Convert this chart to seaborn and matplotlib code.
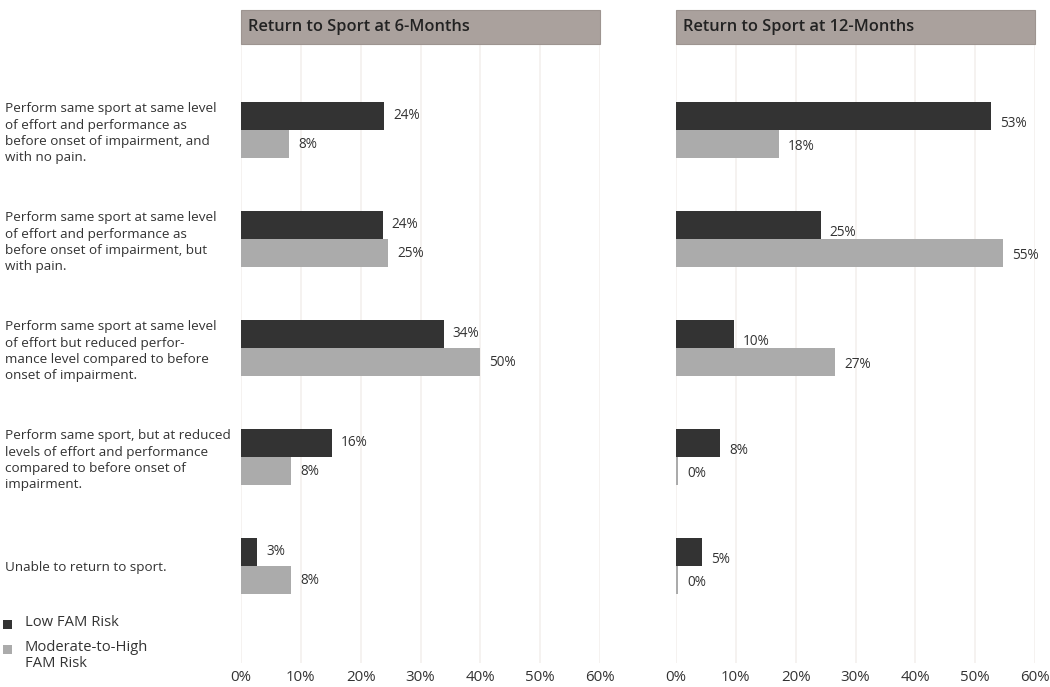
import matplotlib
matplotlib.use("Agg")
import matplotlib.pyplot as plt
import seaborn as sns
import pandas as pd
from matplotlib.patches import Rectangle

# ---------------- data ----------------
categories = [
    "Perform same sport at same level\nof effort and performance as\nbefore onset of impairment, and\nwith no pain.",
    "Perform same sport at same level\nof effort and performance as\nbefore onset of impairment, but\nwith pain.",
    "Perform same sport at same level\nof effort but reduced perfor-\nmance level compared to before\nonset of impairment.",
    "Perform same sport, but at reduced\nlevels of effort and performance\ncompared to before onset of\nimpairment.",
    "Unable to return to sport.",
]
groups = ["Low FAM Risk", "Moderate-to-High FAM Risk"]
legend_labels = ["Low FAM Risk", "Moderate-to-High\nFAM Risk"]
panel_titles = ["Return to Sport at 6-Months", "Return to Sport at 12-Months"]

low_6 = [23.9, 23.7, 33.9, 15.2, 2.7]
mod_6 = [8.0, 24.6, 39.9, 8.4, 8.4]
low_12 = [52.6, 24.2, 9.7, 7.4, 4.4]
mod_12 = [17.2, 54.7, 26.6, 0.4, 0.4]

labels_low_6 = ["24%", "24%", "34%", "16%", "3%"]
labels_mod_6 = ["8%", "25%", "50%", "8%", "8%"]
labels_low_12 = ["53%", "25%", "10%", "8%", "5%"]
labels_mod_12 = ["18%", "55%", "27%", "0%", "0%"]

x_ticks = [0, 10, 20, 30, 40, 50, 60]
x_tick_labels = ["0%", "10%", "20%", "30%", "40%", "50%", "60%"]

colors = ["#333333", "#ababab"]
header_color = "#aaa19d"
grid_color = "#f3f0ee"
text_color = "#333333"

# ---------------- figure ----------------
sns.set_theme(style="white")
plt.rcParams["font.family"] = ["Open Sans", "DejaVu Sans"]

W, H = 1050, 687
fig = plt.figure(figsize=(W / 100, H / 100), dpi=100)

def fx(px):
    return px / W

def fy(py):
    return 1 - py / H

ax_top, ax_bot = 44, 663
axes_left = [241, 676]
ax_w = 359

panels = [
    (low_6, mod_6, labels_low_6, labels_mod_6),
    (low_12, mod_12, labels_low_12, labels_mod_12),
]
label_dy = [(0.0, 0.0), (0.07, 0.02)]

axes = []
for i, (lo, mo, llo, lmo) in enumerate(panels):
    ax = fig.add_axes([fx(axes_left[i]), fy(ax_bot), fx(ax_w), (ax_bot - ax_top) / H])
    df = pd.DataFrame({
        "category": categories * 2,
        "group": [groups[0]] * len(categories) + [groups[1]] * len(categories),
        "value": lo + mo,
    })
    sns.barplot(data=df, y="category", x="value", hue="group", hue_order=groups,
                order=categories, palette=colors, orient="h", width=0.52,
                saturation=1, linewidth=0, ax=ax, legend=False)
    ax.set_xlim(0, 60)
    ax.set_ylim(4.89, -0.79)
    ax.set_xticks(x_ticks)
    ax.set_xticklabels(x_tick_labels)
    ax.set_xlabel("")
    ax.set_ylabel("")
    ax.grid(axis="x", color=grid_color, linewidth=1.2)
    ax.set_axisbelow(True)
    for s in ax.spines.values():
        s.set_visible(False)
    ax.tick_params(axis="x", length=0, pad=5, labelsize=10.8, labelcolor=text_color)

    # value labels
    for cont, labs, dy in zip(ax.containers, [llo, lmo], label_dy[i]):
        for bar, lab in zip(cont, labs):
            yc = bar.get_y() + bar.get_height() / 2 + dy
            ax.annotate(lab, (bar.get_width(), yc), xytext=(6.5, 0),
                        textcoords="offset points", ha="left", va="center",
                        fontsize=9.8, color=text_color)

    # header box
    ax.add_patch(Rectangle((0, 1.0), 1.0, 34 / (ax_bot - ax_top), transform=ax.transAxes,
                           facecolor=header_color, edgecolor="#9d9490", linewidth=0.8,
                           clip_on=False, zorder=3))
    ax.text(7 / ax_w, 1.0 + 17 / (ax_bot - ax_top), panel_titles[i], transform=ax.transAxes,
            ha="left", va="center", fontsize=11.8, fontweight="semibold", color="#222222",
            zorder=4)
    axes.append(ax)

# category labels on the left panel
ax1, ax2 = axes
ax1.tick_params(axis="y", length=0, pad=(241 - 5) * 0.72, labelsize=9.7,
                labelcolor=text_color)
for lab in ax1.get_yticklabels():
    lab.set_ha("left")
    lab.set_linespacing(1.32)
ax2.set_yticklabels([])
ax2.tick_params(axis="y", length=0)

# legend (manual, top-aligned like the reference)
leg_rows = [624, 649]
for c, lab, yy in zip(colors, legend_labels, leg_rows):
    fig.patches.append(Rectangle((fx(3), fy(yy + 4.5)), fx(9), 9 / H,
                                 transform=fig.transFigure, facecolor=c,
                                 edgecolor="none"))
    fig.text(fx(25), fy(yy - 9), lab, ha="left", va="top", fontsize=10.6,
             color=text_color, linespacing=1.12)

fig.savefig("out.png", dpi=100, facecolor="white")
